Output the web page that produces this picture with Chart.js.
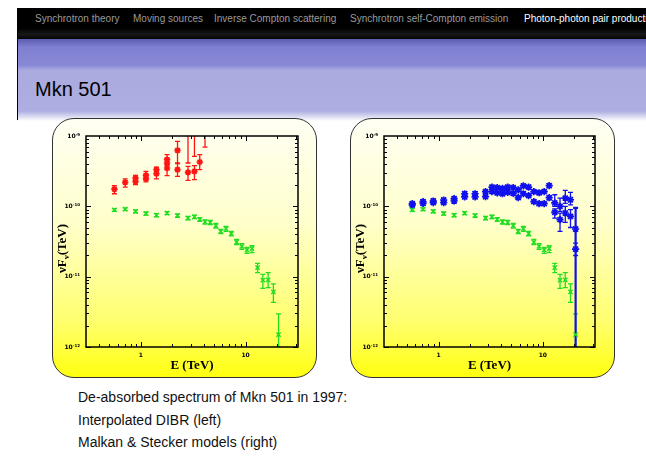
<!DOCTYPE html>
<html>
<head>
<meta charset="utf-8">
<script src="https://cdn.jsdelivr.net/npm/chart.js@4.4.1/dist/chart.umd.min.js"></script>
<style>
  body { margin: 0; width: 646px; height: 473px; background: #fff; position: relative; overflow: hidden;
         font-family: Arial, "Liberation Sans", sans-serif; }
  #topbar { position: absolute; left: 18px; top: 8px; width: 628px; height: 31px;
            background: linear-gradient(#000 0%, #000 65%, #181818 85%, #050505 100%); }
  #band { position: absolute; left: 18px; top: 39px; width: 628px; height: 82px;
          background: linear-gradient(#5c5cb0 0%, #8080d2 10%, #8888d6 32%, #aaaadf 38%, #aeaee2 88%, #ffffff 100%); }
  #edge { position: absolute; left: 17px; top: 8px; width: 1px; height: 112px; background: #000; }
  .nav { position: absolute; top: 13px; font-size: 10px; color: #9a9a9a; white-space: nowrap; }
  .nav.on { color: #fff; }
  #title { position: absolute; left: 35px; top: 78px; font-size: 20px; color: #000; }
  .panel { position: absolute; top: 118px; width: 265px; height: 260px; box-sizing: border-box;
           border: 1.5px solid #333; border-radius: 22px;
           background: linear-gradient(#fffff4 0%, #ffffcc 40%, #ffff70 78%, #ffff10 100%); }
  canvas { position: absolute; top: 118px; }
  .cap { position: absolute; left: 78px; font-size: 14px; color: #111; white-space: nowrap; }
</style>
</head>
<body>
<div id="topbar"></div>
<div id="band"></div>
<div id="edge"></div>
<div class="nav" style="left:35px">Synchrotron theory</div>
<div class="nav" style="left:133px">Moving sources</div>
<div class="nav" style="left:214px">Inverse Compton scattering</div>
<div class="nav" style="left:350px">Synchrotron self-Compton emission</div>
<div class="nav on" style="left:524px">Photon-photon pair production</div>
<div id="title">Mkn 501</div>

<div class="panel" style="left:52px"></div>
<div class="panel" style="left:350px"></div>
<canvas id="leftChart" width="265" height="260" style="left:52px"></canvas>
<canvas id="rightChart" width="264" height="260" style="left:350px"></canvas>

<div class="cap" style="top:389px">De-absorbed spectrum of Mkn 501 in 1997:</div>
<div class="cap" style="top:412px">Interpolated DIBR (left)</div>
<div class="cap" style="top:434px">Malkan &amp; Stecker models (right)</div>

<script>
// Energy bins (TeV)
const energy = [0.56, 0.71, 0.89, 1.12, 1.41, 1.78, 2.24, 2.82, 3.25, 3.65, 4.1, 4.6, 5.2,
                5.8, 6.5, 7.3, 8.2, 9.2, 10.3, 11.5, 13.0, 14.6, 16.4, 18.4, 20.6];

// Observed spectrum (green), nuF_nu in TeV
const observed = [8.9e-11, 9.1e-11, 8.5e-11, 7.9e-11, 7.5e-11, 8.0e-11, 7.4e-11, 6.8e-11, 7.1e-11,
                  6.5e-11, 6.0e-11, 5.9e-11, 5.3e-11, 4.4e-11, 4.8e-11, 4.1e-11, 3.1e-11, 2.7e-11,
                  2.4e-11, 2.5e-11, 1.34e-11, 8.9e-12, 9.0e-12, 6.1e-12, 1.5e-12];
const observedLow = [8.5e-11, 8.7e-11, 8.1e-11, 7.5e-11, 7.1e-11, 7.6e-11, 7.0e-11, 6.4e-11, 6.7e-11,
                     6.1e-11, 5.6e-11, 5.5e-11, 4.9e-11, 4.1e-11, 4.4e-11, 3.8e-11, 2.85e-11, 2.45e-11,
                     2.15e-11, 2.2e-11, 1.14e-11, 6.8e-12, 7.0e-12, 4.3e-12, 1.0e-12];
const observedHigh = [9.3e-11, 9.5e-11, 8.9e-11, 8.3e-11, 7.9e-11, 8.4e-11, 7.8e-11, 7.2e-11, 7.5e-11,
                      6.9e-11, 6.4e-11, 6.3e-11, 5.7e-11, 4.7e-11, 5.2e-11, 4.4e-11, 3.4e-11, 2.95e-11,
                      2.6e-11, 2.75e-11, 1.55e-11, 1.08e-11, 1.14e-11, 7.9e-12, 2.95e-12];

// De-absorbed with interpolated DIBR (red, left panel)
const dibrE = [0.56, 0.71, 0.89, 0.89, 1.12, 1.12, 1.41, 1.41, 1.78, 1.78, 1.78, 2.24, 2.24,
               2.82, 3.25, 3.65, 2.82, 3.25, 4.1];
const dibr = [1.76e-10, 2.19e-10, 2.53e-10, 2.27e-10, 2.76e-10, 2.47e-10, 3.32e-10, 2.91e-10,
              4.6e-10, 4.13e-10, 3.51e-10, 6.25e-10, 3.32e-10, 3.04e-10, 3.14e-10, 4.27e-10,
              2.0e-9, 2.0e-9, 2.0e-9];
const dibrLow = [1.51e-10, 1.88e-10, 2.2e-10, 2.03e-10, 2.4e-10, 2.22e-10, 2.9e-10, 2.45e-10,
                 3.9e-10, 3.3e-10, 2.73e-10, 4.13e-10, 2.67e-10, 2.34e-10, 2.39e-10, 3.32e-10,
                 4.13e-10, 5.13e-10, 6.97e-10];
const dibrHigh = [1.97e-10, 2.45e-10, 2.76e-10, 2.55e-10, 3.15e-10, 2.8e-10, 3.62e-10, 3.25e-10,
                  5.43e-10, 4.8e-10, 4.0e-10, 8.4e-10, 4.04e-10, 3.7e-10, 3.79e-10, 5.43e-10,
                  3e-9, 3e-9, 3e-9];

// De-absorbed with Malkan & Stecker models (blue, right panel)
const malkan = [1.09e-10, 1.165e-10, 1.19e-10, 1.23e-10, 1.285e-10, 1.51e-10, 1.51e-10, 1.62e-10,
                1.88e-10, 1.84e-10, 1.80e-10, 1.88e-10, 1.84e-10, 1.71e-10, 1.95e-10, 1.88e-10,
                1.62e-10, 1.56e-10, 1.62e-10, 1.97e-10, 1.12e-10, 1.0e-10, 1.31e-10, 1.24e-10, 4.76e-11];
const malkanLow = [1.03e-10, 1.10e-10, 1.13e-10, 1.17e-10, 1.22e-10, 1.43e-10, 1.43e-10, 1.53e-10,
                   1.78e-10, 1.74e-10, 1.70e-10, 1.78e-10, 1.74e-10, 1.62e-10, 1.84e-10, 1.78e-10,
                   1.53e-10, 1.47e-10, 1.53e-10, 1.84e-10, 1.0e-10, 8.5e-11, 1.1e-10, 1.05e-10, 1e-13];
const malkanHigh = [1.15e-10, 1.23e-10, 1.26e-10, 1.30e-10, 1.36e-10, 1.60e-10, 1.60e-10, 1.71e-10,
                    1.99e-10, 1.94e-10, 1.90e-10, 1.99e-10, 1.94e-10, 1.81e-10, 2.06e-10, 1.99e-10,
                    1.71e-10, 1.65e-10, 1.71e-10, 2.10e-10, 1.46e-10, 1.31e-10, 1.69e-10, 1.58e-10, 9.5e-11];
const stecker = [1.045e-10, 1.10e-10, 1.13e-10, 1.13e-10, 1.19e-10, 1.36e-10, 1.36e-10, 1.37e-10,
                 1.62e-10, 1.55e-10, 1.51e-10, 1.58e-10, 1.53e-10, 1.33e-10, 1.51e-10, 1.42e-10,
                 1.165e-10, 1.09e-10, 1.09e-10, 1.33e-10, 8.2e-11, 6.46e-11, 8.04e-11, 7.21e-11, 2.47e-11];
const steckerLow = [0.99e-10, 1.04e-10, 1.07e-10, 1.07e-10, 1.13e-10, 1.29e-10, 1.29e-10, 1.30e-10,
                    1.53e-10, 1.47e-10, 1.43e-10, 1.50e-10, 1.45e-10, 1.26e-10, 1.43e-10, 1.34e-10,
                    1.10e-10, 1.03e-10, 1.03e-10, 1.24e-10, 6.8e-11, 4.4e-11, 5.9e-11, 5.0e-11, 2.0e-11];
const steckerHigh = [1.10e-10, 1.16e-10, 1.19e-10, 1.19e-10, 1.26e-10, 1.44e-10, 1.44e-10, 1.45e-10,
                     1.71e-10, 1.64e-10, 1.60e-10, 1.67e-10, 1.62e-10, 1.41e-10, 1.60e-10, 1.50e-10,
                     1.23e-10, 1.15e-10, 1.15e-10, 1.41e-10, 9.2e-11, 8.0e-11, 1.0e-10, 9.0e-11, 3.0e-11];

// Axis ranges and tick labels
const xMin = 0.316, xMax = 31.6;
const yMin = 1e-12, yMax = 1e-9;
const xTicks = [1, 10];
const xTickLabels = ['1', '10'];
const yTicks = [1e-12, 1e-11, 1e-10, 1e-9];
const yTickExp = ['-12', '-11', '-10', '-9'];
const xDecades = [0.1, 1, 10];
const yDecades = [1e-12, 1e-11, 1e-10];

function points(xs, ys) {
    return xs.map((x, i) => ({ x: x, y: ys[i] }));
}

// Vertical error bars with small caps, clipped to the plot box
const errorBars = {
    id: 'errorBars',
    beforeDatasetsDraw(chart) {
        const { ctx, chartArea: a, scales: { x, y } } = chart;
        ctx.save();
        ctx.beginPath();
        ctx.rect(a.left, a.top, a.right - a.left, a.bottom - a.top);
        ctx.clip();
        chart.data.datasets.forEach(ds => {
            ctx.strokeStyle = ds.barColor;
            ds.data.forEach((p, i) => {
                const px = x.getPixelForValue(p.x);
                const lo = y.getPixelForValue(ds.errLow[i]);
                const hi = y.getPixelForValue(ds.errHigh[i]);
                ctx.lineWidth = (ds.wideLast && i === ds.data.length - 1) ? 2.2 : 1.3;
                ctx.beginPath();
                ctx.moveTo(px, lo); ctx.lineTo(px, hi);
                ctx.moveTo(px - 2.5, lo); ctx.lineTo(px + 2.5, lo);
                ctx.moveTo(px - 2.5, hi); ctx.lineTo(px + 2.5, hi);
                ctx.stroke();
            });
        });
        ctx.restore();
    }
};

// Plot frame with inward log ticks, tick labels and axis titles
const frame = {
    id: 'frame',
    afterDraw(chart) {
        const { ctx, chartArea: a, scales: { x, y } } = chart;
        ctx.save();
        ctx.strokeStyle = '#000';
        ctx.lineWidth = 1.5;
        ctx.strokeRect(a.left, a.top, a.right - a.left, a.bottom - a.top);

        ctx.lineWidth = 1;
        ctx.beginPath();
        xDecades.forEach(d => {
            for (let m = 1; m <= 9; m++) {
                const v = m * d;
                if (v < xMin || v > xMax) continue;
                const px = Math.round(x.getPixelForValue(v)) + 0.5;
                const len = m === 1 ? 5 : 3;
                ctx.moveTo(px, a.bottom); ctx.lineTo(px, a.bottom - len);
                ctx.moveTo(px, a.top); ctx.lineTo(px, a.top + len);
            }
        });
        yDecades.forEach(d => {
            for (let m = 1; m <= 9; m++) {
                const v = m * d;
                if (v < yMin || v > yMax) continue;
                const py = Math.round(y.getPixelForValue(v)) + 0.5;
                const len = m === 1 ? 5 : 3;
                ctx.moveTo(a.left, py); ctx.lineTo(a.left + len, py);
                ctx.moveTo(a.right, py); ctx.lineTo(a.right - len, py);
            }
        });
        ctx.stroke();

        // tick labels
        ctx.fillStyle = '#000';
        ctx.textBaseline = 'middle';
        yTicks.forEach((v, i) => {
            const py = y.getPixelForValue(v);
            ctx.font = 'bold 4px "DejaVu Sans"';
            const ew = ctx.measureText(yTickExp[i]).width;
            ctx.textAlign = 'right';
            ctx.fillText(yTickExp[i], a.left - 6, py - 1.5);
            ctx.font = 'bold 6px "DejaVu Sans"';
            ctx.fillText('10', a.left - 6 - ew, py);
        });
        ctx.font = 'bold 6px "DejaVu Sans"';
        ctx.textAlign = 'center';
        xTicks.forEach((v, i) => {
            ctx.fillText(xTickLabels[i], x.getPixelForValue(v), a.bottom + 8);
        });

        // x title
        ctx.font = 'bold 13px "Liberation Serif"';
        ctx.fillText('E (TeV)', (a.left + a.right) / 2, a.bottom + 19);

        // y title: nu F_nu (TeV)
        ctx.translate(a.left - 24, (a.top + a.bottom) / 2 + 7);
        ctx.rotate(-Math.PI / 2);
        ctx.textAlign = 'left';
        ctx.textBaseline = 'alphabetic';
        const big = 'bold 13px "Liberation Serif"', small = 'bold 9px "Liberation Serif"';
        ctx.font = big; const w1 = ctx.measureText('νF').width;
        ctx.font = small; const w2 = ctx.measureText('ν').width;
        ctx.font = big; const w3 = ctx.measureText('(TeV)').width;
        let cx = -(w1 + w2 + w3) / 2;
        ctx.font = big; ctx.fillText('νF', cx, 4); cx += w1;
        ctx.font = small; ctx.fillText('ν', cx, 7); cx += w2;
        ctx.font = big; ctx.fillText('(TeV)', cx, 4);
        ctx.restore();
    }
};

const green = '#22dd22', red = '#ff1414', blue = '#1010ee';

function observedSet() {
    return {
        data: points(energy, observed), errLow: observedLow, errHigh: observedHigh, barColor: green,
        pointStyle: 'crossRot', pointRadius: 3, pointBorderWidth: 1.4,
        pointBorderColor: green, pointBackgroundColor: green
    };
}

function makeChart(id, datasets) {
    return new Chart(document.getElementById(id), {
        type: 'scatter',
        data: { datasets: datasets },
        options: {
            responsive: false,
            animation: false,
            devicePixelRatio: 1,
            layout: { padding: { left: 34, right: 19, top: 18, bottom: 31 } },
            plugins: { legend: { display: false }, tooltip: { enabled: false } },
            scales: {
                x: { type: 'logarithmic', display: false, min: xMin, max: xMax },
                y: { type: 'logarithmic', display: false, min: yMin, max: yMax }
            }
        },
        plugins: [errorBars, frame]
    });
}

// Left: interpolated DIBR
makeChart('leftChart', [
    observedSet(),
    {
        data: points(dibrE, dibr), errLow: dibrLow, errHigh: dibrHigh, barColor: red,
        pointStyle: 'star', pointRadius: 3.2, pointBorderWidth: 1.7,
        pointBorderColor: red, pointBackgroundColor: red
    }
]);

// Right: Malkan & Stecker models
makeChart('rightChart', [
    observedSet(),
    {
        data: points(energy, malkan), errLow: malkanLow, errHigh: malkanHigh, barColor: blue, wideLast: true,
        pointStyle: 'star', pointRadius: 3.6, pointBorderWidth: 1.7,
        pointBorderColor: blue, pointBackgroundColor: blue
    },
    {
        data: points(energy, stecker), errLow: steckerLow, errHigh: steckerHigh, barColor: blue,
        pointStyle: 'star', pointRadius: 3.6, pointBorderWidth: 1.7,
        pointBorderColor: blue, pointBackgroundColor: blue
    }
]);
</script>
</body>
</html>
